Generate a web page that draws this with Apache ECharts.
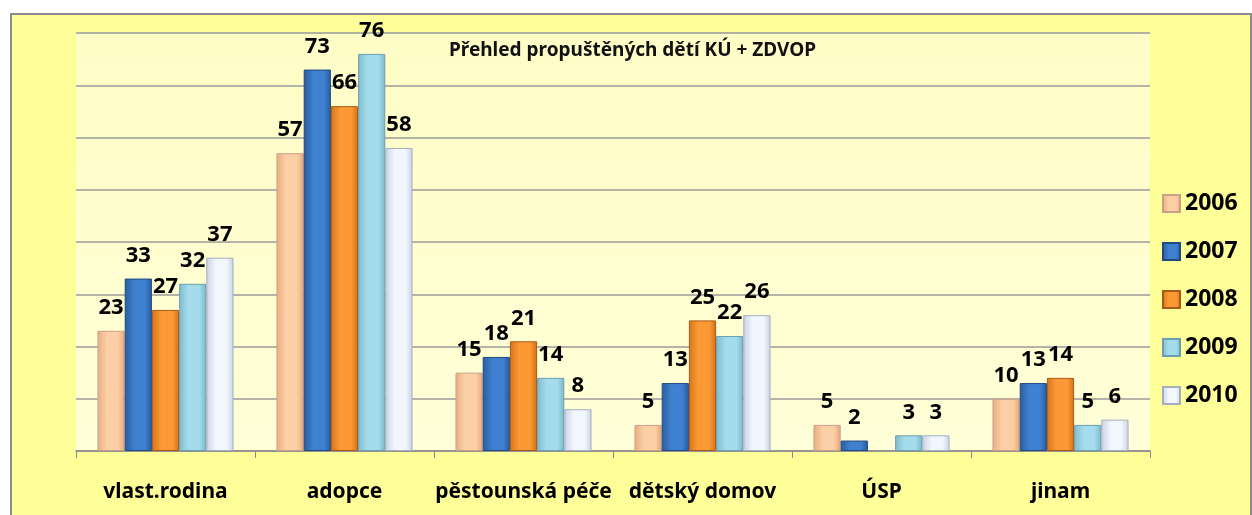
<!DOCTYPE html>
<html><head><meta charset="utf-8">
<script src="https://cdn.jsdelivr.net/npm/echarts@6/dist/echarts.min.js"></script>
<style>html,body{margin:0;padding:0;background:#fff}#c{width:1252px;height:515px}</style>
</head><body><div id="c"></div>
<script>
const categories = ['vlast.rodina', 'adopce', 'pěstounská péče', 'dětský domov', 'ÚSP', 'jinam'];
const years = ['2006', '2007', '2008', '2009', '2010'];
const v2006 = [23, 57, 15, 5, 5, 10];
const v2007 = [33, 73, 18, 13, 2, 13];
const v2008 = [27, 66, 21, 25, null, 14];
const v2009 = [32, 76, 14, 22, 3, 5];
const v2010 = [37, 58, 8, 26, 3, 6];
const titleText = 'Přehled propuštěných dětí KÚ + ZDVOP';

const seriesData = [v2006, v2007, v2008, v2009, v2010];
const palette = [
  ['#e9ad80', '#fcd0a6', '#e7a679', '#c8a08a'],
  ['#2a5c9e', '#3f80d0', '#285b9c', '#1f4a80'],
  ['#d9741a', '#fb9a35', '#d46f15', '#a85a1a'],
  ['#7fbccc', '#a5dceb', '#7ab6c6', '#6b9eb0'],
  ['#c9d3e6', '#f2f6fd', '#c8d1e3', '#a4aec0']
];
function grad(p){
  return new echarts.graphic.LinearGradient(0,0,1,0,[
    {offset:0,color:p[0]},{offset:0.35,color:p[1]},{offset:0.75,color:p[1]},{offset:1,color:p[2]}]);
}
const font = 'Noto Sans, DejaVu Sans, sans-serif';
const chart = echarts.init(document.getElementById('c'));
chart.setOption({
  backgroundColor: '#ffffff',
  animation: false,
  graphic: [
    {type:'rect', left:10, top:13, shape:{width:1240, height:510},
     style:{fill:'#ffff99', stroke:'#8c8c8c', lineWidth:2}, z:-10},
    {type:'rect', left:76, top:33, shape:{width:1074, height:418},
     style:{fill:new echarts.graphic.LinearGradient(0,0,0,1,[{offset:0,color:'#fffdc6'},{offset:1,color:'#ffffd8'}])}, z:-9}
  ],
  title: {text: titleText, left: 444, top: 36,
    textStyle:{fontFamily:font, fontSize:19, fontWeight:'bold', color:'#111'}},
  legend: {orient:'vertical', left:1157, top:187, itemGap:25, itemWidth:17, itemHeight:17,
    icon:'rect',
    textStyle:{fontFamily:font, fontSize:23, fontWeight:'bold', color:'#000', padding:[0,0,0,0]},
    data: years},
  grid: {left:76, right:102, top:33, bottom:64},
  xAxis: {type:'category', data:categories,
    axisLine:{lineStyle:{color:'#8c8c8c', width:1.5}},
    axisTick:{show:true, interval:0, length:7, lineStyle:{color:'#8c8c8c'}},
    axisLabel:{interval:0, fontFamily:font, fontSize:21, fontWeight:'bold', color:'#000', margin:31}},
  yAxis: {type:'value', min:0, max:80, interval:10,
    axisLabel:{show:false}, axisLine:{show:false}, axisTick:{show:false},
    splitLine:{lineStyle:{color:'#9a9a9a', width:1.5}}},
  series: years.map((y,i)=>({
    name:y, type:'bar', data:seriesData[i], barGap:'0%', barCategoryGap:'24%',
    itemStyle:{color:grad(palette[i]), borderColor:palette[i][3], borderWidth:1},
    label:{show:true, position:'top', distance:12, fontFamily:font, fontSize:22, fontWeight:'bold', color:'#000'}
  }))
});
</script></body></html>
